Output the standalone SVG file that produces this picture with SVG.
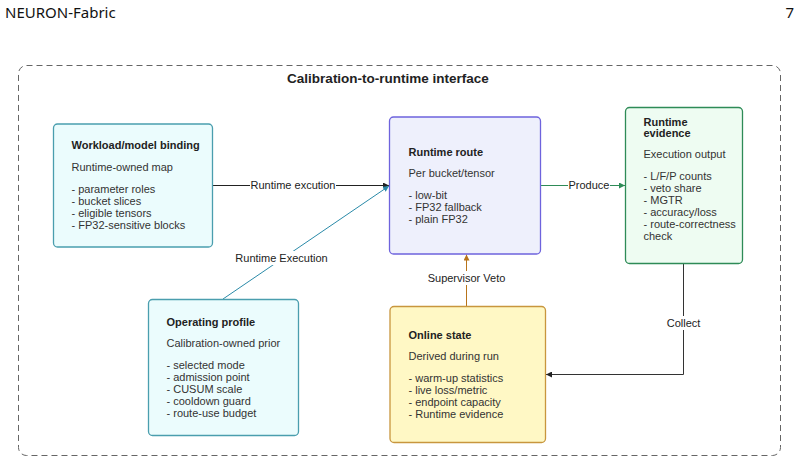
<svg xmlns="http://www.w3.org/2000/svg" width="800" height="462" viewBox="0 0 800 462">
<style>
  text { font-family: "Liberation Sans", Arial, sans-serif; fill: #333; font-size: 11px; }
  .title { font-weight: bold; fill: #222; }
  .hdr { font-family: "Linux Biolinum", "Noto Sans", "Open Sans", sans-serif; font-size: 15px; fill: #111; }
  .lbl { text-anchor: middle; fill: #222; }
  .box { stroke-width: 1.3; }
  .cyan { fill: #ebfcfd; stroke: #4a9eae; }
  .purple { fill: #eef0fc; stroke: #6e63dd; }
  .green { fill: #eefcf2; stroke: #2e8b57; }
  .yellow { fill: #fff8c5; stroke: #c8963e; }
  .edge { fill: none; stroke-width: 1; }
</style>
<defs>
  <marker id="ah-black" viewBox="0 0 10 10" refX="10" refY="5" markerWidth="6" markerHeight="6" orient="auto-start-reverse" markerUnits="userSpaceOnUse"><path d="M0,0 L10,5 L0,10 z" fill="#222"/></marker>
  <marker id="ah-teal" viewBox="0 0 10 10" refX="10" refY="5" markerWidth="6" markerHeight="6" orient="auto-start-reverse" markerUnits="userSpaceOnUse"><path d="M0,0 L10,5 L0,10 z" fill="#2a8aa8"/></marker>
  <marker id="ah-green" viewBox="0 0 10 10" refX="10" refY="5" markerWidth="6" markerHeight="6" orient="auto-start-reverse" markerUnits="userSpaceOnUse"><path d="M0,0 L10,5 L0,10 z" fill="#2e8b57"/></marker>
  <marker id="ah-orange" viewBox="0 0 10 10" refX="10" refY="5" markerWidth="6" markerHeight="6" orient="auto-start-reverse" markerUnits="userSpaceOnUse"><path d="M0,0 L10,5 L0,10 z" fill="#b8741a"/></marker>
</defs>
<rect width="800" height="462" fill="#fff"/>
<text class="hdr" x="5" y="18">NEURON-Fabric</text>
<text class="hdr" x="794" y="18" text-anchor="end">7</text>

<g id="frame">
  <rect x="18.5" y="65.5" width="762" height="390" rx="8" fill="none" stroke="#666" stroke-width="1" stroke-dasharray="6 4"/>
  <text x="388" y="83" text-anchor="middle" style="font-weight:bold;font-size:13.5px;fill:#222">Calibration-to-runtime interface</text>
</g>

<g id="connectors">
  <line class="edge" x1="212" y1="185.5" x2="389" y2="185.5" stroke="#222" marker-end="url(#ah-black)"/>
  <rect x="250" y="178" width="86" height="14" fill="#fff"/>
  <text class="lbl" x="293" y="189">Runtime excution</text>

  <line class="edge" x1="223" y1="299" x2="389" y2="186" stroke="#2a8aa8" marker-end="url(#ah-teal)"/>
  <rect x="234" y="251" width="94" height="14" fill="#fff"/>
  <text class="lbl" x="281.5" y="262">Runtime Execution</text>

  <line class="edge" x1="541" y1="185.5" x2="625" y2="185.5" stroke="#2e8b57" marker-end="url(#ah-green)"/>
  <rect x="568" y="178" width="42" height="14" fill="#fff"/>
  <text class="lbl" x="589" y="189">Produce</text>

  <line class="edge" x1="466.5" y1="306" x2="466.5" y2="254.5" stroke="#b8741a" marker-end="url(#ah-orange)"/>
  <rect x="424" y="271" width="86" height="14" fill="#fff"/>
  <text class="lbl" x="466.5" y="282">Supervisor Veto</text>

  <polyline class="edge" points="683.5,263.5 683.5,374.5 546,374.5" stroke="#333" marker-end="url(#ah-black)"/>
  <rect x="664" y="316" width="39" height="14" fill="#fff"/>
  <text class="lbl" x="683.5" y="327">Collect</text>
</g>

<g id="workload">
  <rect class="box cyan" x="53.5" y="124" width="159" height="123" rx="4"/>
  <text class="title" x="71.5" y="149">Workload/model binding</text>
  <text x="71.5" y="171">Runtime-owned map</text>
  <text x="71.5" y="193">- parameter roles</text>
  <text x="71.5" y="205">- bucket slices</text>
  <text x="71.5" y="217">- eligible tensors</text>
  <text x="71.5" y="229">- FP32-sensitive blocks</text>
</g>

<g id="runtime-route">
  <rect class="box purple" x="389.5" y="117" width="151" height="137" rx="4"/>
  <text class="title" x="408.5" y="156">Runtime route</text>
  <text x="408.5" y="177">Per bucket/tensor</text>
  <text x="408.5" y="199">- low-bit</text>
  <text x="408.5" y="211">- FP32 fallback</text>
  <text x="408.5" y="223">- plain FP32</text>
</g>

<g id="runtime-evidence">
  <rect class="box green" x="625.5" y="107.5" width="117" height="156" rx="4"/>
  <text class="title" x="643.5" y="126">Runtime</text>
  <text class="title" x="643.5" y="137">evidence</text>
  <text x="643.5" y="158">Execution output</text>
  <text x="643.5" y="180">- L/F/P counts</text>
  <text x="643.5" y="192">- veto share</text>
  <text x="643.5" y="204">- MGTR</text>
  <text x="643.5" y="216">- accuracy/loss</text>
  <text x="643.5" y="228">- route-correctness</text>
  <text x="643.5" y="240">check</text>
</g>

<g id="operating-profile">
  <rect class="box cyan" x="148.5" y="299.5" width="150" height="136" rx="4"/>
  <text class="title" x="166.5" y="326">Operating profile</text>
  <text x="166.5" y="347">Calibration-owned prior</text>
  <text x="166.5" y="369">- selected mode</text>
  <text x="166.5" y="381">- admission point</text>
  <text x="166.5" y="393">- CUSUM scale</text>
  <text x="166.5" y="405">- cooldown guard</text>
  <text x="166.5" y="417">- route-use budget</text>
</g>

<g id="online-state">
  <rect class="box yellow" x="390" y="306.5" width="155.5" height="136" rx="4"/>
  <text class="title" x="408.5" y="339">Online state</text>
  <text x="408.5" y="360">Derived during run</text>
  <text x="408.5" y="382">- warm-up statistics</text>
  <text x="408.5" y="394">- live loss/metric</text>
  <text x="408.5" y="406">- endpoint capacity</text>
  <text x="408.5" y="418">- Runtime evidence</text>
</g>
</svg>
